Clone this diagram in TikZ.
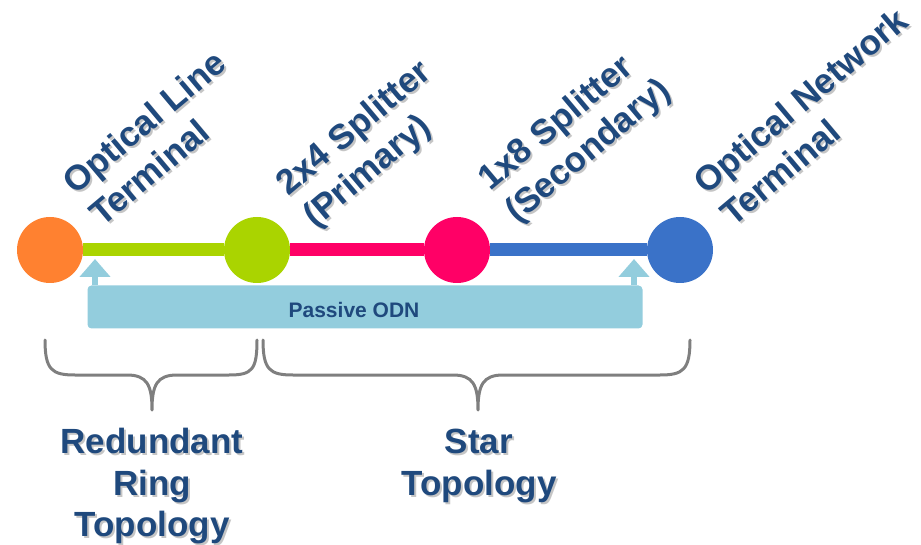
\documentclass[tikz,border=0pt]{standalone}
\usepackage{fontspec}
\setmainfont{Liberation Sans}
\usetikzlibrary{arrows.meta,calc}
\definecolor{cOrange}{HTML}{FF8130}
\definecolor{cGreen}{HTML}{AAD400}
\definecolor{cPink}{HTML}{FF0066}
\definecolor{cBlue}{HTML}{3A72C8}
\definecolor{cOdn}{HTML}{93CDDD}
\definecolor{cText}{HTML}{1F497D}
\definecolor{cBrace}{HTML}{7F7F7F}
\tikzset{
  bigtext/.style={font=\fontsize{35}{42}\selectfont\bfseries, text=cText, inner sep=0pt},
  shadowtext/.style={text=black!45, opacity=0.5},
  rotlbl/.style={rotate=40, anchor=base west},
  botlbl/.style={anchor=base},
  dot/.style={circle, minimum size=66pt, inner sep=0pt},
  link/.style={line width=13pt},
  odnbox/.style={fill=cOdn, rounded corners=4pt, minimum width=555pt, minimum height=43pt, inner sep=0pt},
  odntext/.style={font=\fontsize{21}{25}\selectfont\bfseries, text=cText, inner sep=0pt},
  odnarrow/.style={draw=cOdn, line width=6pt, -{Triangle[width=30pt,length=18pt]}},
  brace/.style={draw=cBrace, line width=3pt, line cap=round, line join=round}
}
\newcommand\shlabel[5]{%
  \node[bigtext,#2,shadowtext] (#1s) at (#3+2,#4+2) {#5};
  \node[bigtext,#2] (#1) at (#3,#4) {#5};}
\begin{document}
\begin{tikzpicture}[x=1pt,y=-1pt]
\useasboundingbox (0,0) rectangle (921,545);
% nodes of the line
\node[dot, fill=cOrange] (olt) at (50,250) {};
\node[dot, fill=cGreen] (sp1) at (257,250) {};
\node[dot, fill=cPink] (sp2) at (457,250) {};
\node[dot, fill=cBlue] (ont) at (680,250) {};
\draw[link, cGreen] (olt) -- (sp1);
\draw[link, cPink] (sp1) -- (sp2);
\draw[link, cBlue] (sp2) -- (ont);
% passive ODN
\node[odnbox] (odn) at (365,307) {};
\node[odntext] (odnlbl) at (354,310) {Passive ODN};
\coordinate (tipL) at (95,259);
\coordinate (tipR) at (634,259);
\draw[odnarrow] (odn.north -| tipL) -- (tipL);
\draw[odnarrow] (odn.north -| tipR) -- (tipR);
% rotated labels
\shlabel{olta}{rotlbl}{75}{196}{Optical Line}
\shlabel{oltb}{rotlbl}{102}{228}{Terminal}
\shlabel{spa}{rotlbl}{288}{197}{2x4 Splitter}
\shlabel{spb}{rotlbl}{315}{229}{(Primary)}
\shlabel{spc}{rotlbl}{490}{192}{1x8 Splitter}
\shlabel{spd}{rotlbl}{517}{224}{(Secondary)}
\shlabel{onta}{rotlbl}{706}{196}{Optical Network}
\shlabel{ontb}{rotlbl}{733}{228}{Terminal}
% braces
\coordinate (braceL) at (152,410);
\coordinate (braceR) at (478,410);
\draw[brace] (45,340) .. controls (45,370) and (52,375) .. (75,375) -- (127,375)
  .. controls (147,375) and (152,385) .. (braceL)
  .. controls (152,385) and (157,375) .. (177,375) -- (229,375)
  .. controls (252,375) and (257,370) .. (257,340);
\draw[brace] (263,340) .. controls (263,370) and (270,375) .. (293,375) -- (453,375)
  .. controls (473,375) and (478,385) .. (braceR)
  .. controls (478,385) and (483,375) .. (503,375) -- (660,375)
  .. controls (683,375) and (690,370) .. (690,340);
% bottom labels
\shlabel{rra}{botlbl}{152}{453}{Redundant}
\shlabel{rrb}{botlbl}{152}{495}{Ring}
\shlabel{rrc}{botlbl}{152}{536}{Topology}
\shlabel{sta}{botlbl}{479}{453}{Star}
\shlabel{stb}{botlbl}{479}{495}{Topology}
\end{tikzpicture}
\end{document}
